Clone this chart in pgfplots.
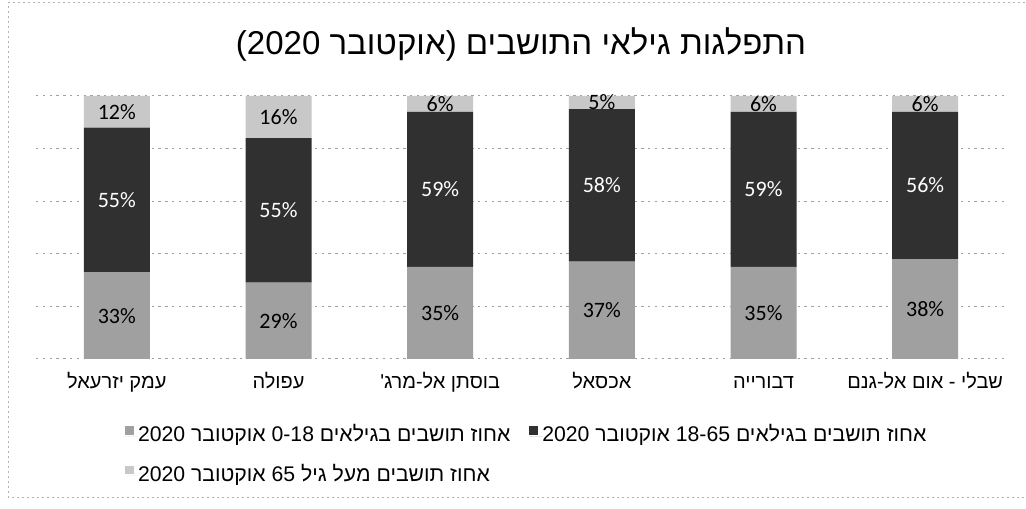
\documentclass[border=0pt]{standalone}
\usepackage{fontspec}
\usepackage{pgfplots}
\usepackage{pgfplotstable}
\pgfplotsset{compat=1.18}
\setmainfont{Liberation Sans}
\newfontfamily\heb[Script=Hebrew]{Liberation Sans}
\newfontfamily\carl{Carlito}
\TeXXeTstate=1
\definecolor{cYoung}{HTML}{A0A0A0}
\definecolor{cAdult}{HTML}{303030}
\definecolor{cOld}{HTML}{C8C8C8}
\pgfplotstableread{
x a b c
0 33 55 12
1 29 55 16
2 35 59 6
3 37 58 5
4 35 59 6
5 38 56 6
}\data
\pgfplotsset{base/.style={
  scale only axis, width=485pt, height=131.5pt,
  at={(18pt,74.5pt)}, anchor=south west,
  xmin=-0.5, xmax=5.5, ymin=0, ymax=100,
  axis line style={draw=none}, tick style={draw=none},
}}
\begin{document}
\begin{tikzpicture}
\useasboundingbox (0pt,0pt) rectangle (513pt,254pt);
\draw[gray!60, line width=0.5pt, dash pattern=on 1pt off 1.5pt] (515pt,252.5pt) -- (4pt,252.5pt) -- (4pt,5.5pt) -- (515pt,5.5pt);
\begin{axis}[base, ybar stacked, bar width=33pt,
  ymajorgrids, grid style={gray!75, line width=0.5pt, dash pattern=on 1.2pt off 2.2pt},
  ytick={0,20,...,100}, yticklabels={},
  xtick={0,...,5},
  xticklabels={{\beginR עמק יזרעאל\endR},{\beginR עפולה\endR},{\beginR בוסתן אל-מרג'\endR},{\beginR אכסאל\endR},{\beginR דבורייה\endR},{\beginR שבלי - אום אל-גנם\endR}},
  xticklabel style={font=\heb\fontsize{10}{12}\selectfont, anchor=base, yshift=-15pt, inner sep=0pt},
  title={\beginR התפלגות גילאי התושבים (אוקטובר 2020)\endR},
  every axis title/.style={at={(0.5,1)}, anchor=base, yshift=20.5pt, inner sep=0pt, font=\heb\fontsize{16.5}{20}\selectfont},
  legend columns=2,
  legend cell align=left,
  legend style={draw=none, fill=none, inner sep=0pt, outer sep=0pt,
    at={(0.0918,-0.2548)}, anchor=north west,
    font=\heb\fontsize{10.6}{12}\selectfont,
    nodes={inner sep=0pt, text height=7.5pt, text depth=2pt},
    row sep=10pt,
    /tikz/every even column/.append style={column sep=9.5pt}},
]
\addplot[fill=cYoung, draw=none, legend image code/.code={\fill[cYoung] (0pt,0.8pt) rectangle (4.3pt,5.1pt); \path (0pt,0pt) -- (6.5pt,0pt);}] table[x=x,y=a]{\data};
\addplot[fill=cAdult, draw=none, legend image code/.code={\fill[cAdult] (0pt,0.8pt) rectangle (4.3pt,5.1pt); \path (0pt,0pt) -- (6.5pt,0pt);}] table[x=x,y=b]{\data};
\addplot[fill=cOld, draw=none, legend image code/.code={\fill[cOld] (0pt,0.8pt) rectangle (4.3pt,5.1pt); \path (0pt,0pt) -- (6.5pt,0pt);}] table[x=x,y=c]{\data};
\addlegendentry{\beginR אחוז תושבים בגילאים 0-18 אוקטובר 2020\endR}
\addlegendentry{\beginR אחוז תושבים בגילאים 18-65 אוקטובר 2020\endR}
\addlegendentry{\beginR אחוז תושבים מעל גיל 65 אוקטובר 2020\endR}
\end{axis}
\begin{axis}[base, hide axis,
  nodes near coords={\pgfmathprintnumber[assume math mode=true]{\pgfplotspointmeta}\%},
  every node near coord/.append style={anchor=center, font=\carl\fontsize{11}{13}\selectfont, inner sep=0pt},
]
\addplot[draw=none, mark=none, point meta=\thisrow{a}] table[x=x, y expr=\thisrow{a}/2]{\data};
\addplot[draw=none, mark=none, point meta=\thisrow{b}, every node near coord/.append style={text=white}] table[x=x, y expr=\thisrow{a}+\thisrow{b}/2]{\data};
\addplot[draw=none, mark=none, point meta=\thisrow{c}] table[x=x, y expr=\thisrow{a}+\thisrow{b}+\thisrow{c}/2]{\data};
\end{axis}
\end{tikzpicture}
\end{document}
